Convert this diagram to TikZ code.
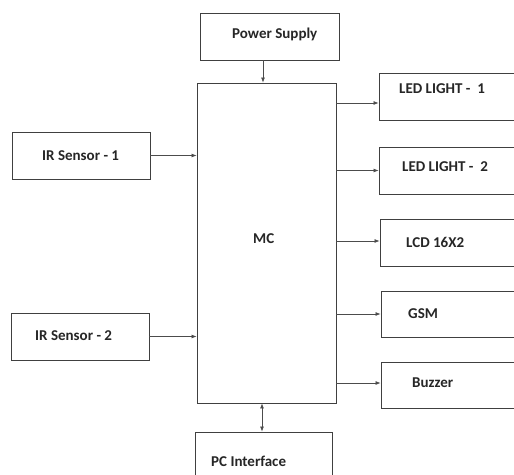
\documentclass[tikz,border=0pt]{standalone}
\usepackage{fontspec}
\setmainfont{Carlito}
\usetikzlibrary{arrows.meta}
\begin{document}
\begin{tikzpicture}[x=1pt,y=-1pt,
  box/.style={draw=black!75,line width=0.9pt,minimum width=#1,inner sep=0pt,rectangle},
  lbl/.style={anchor=west,inner sep=0pt,font=\fontsize{15}{17}\selectfont\bfseries,text=black!85},
  arr/.style={draw=black!70,line width=0.7pt,-{Latex[length=5pt,width=4pt]}},
  darr/.style={draw=black!70,line width=0.7pt,{Latex[length=5pt,width=4pt]}-{Latex[length=5pt,width=4pt]}}]
\clip (0,0) rectangle (514,474);
\fill[white] (0,0) rectangle (514,474);
% boxes
\node[box=139pt,minimum height=47pt] (ps) at (269.5,36.5) {};
\node[box=139pt,minimum height=320pt] (mc) at (266.5,243) {};
\node[box=138pt,minimum height=47pt] (ir1) at (81,155.5) {};
\node[box=138pt,minimum height=47pt] (ir2) at (80,336.5) {};
\node[box=141pt,minimum height=47pt] (led1) at (449.5,96.5) {};
\node[box=141pt,minimum height=47pt] (led2) at (449.5,170.5) {};
\node[box=140pt,minimum height=47pt] (lcd) at (450,242.5) {};
\node[box=139pt,minimum height=46pt] (gsm) at (450.5,314) {};
\node[box=139pt,minimum height=46pt] (buz) at (450.5,385) {};
\node[box=137pt,minimum height=58pt] (pc) at (263.5,461) {};
% labels
\node[lbl] (tps) at (232,34) {Power Supply};
\node[lbl] (tir1) at (42,156) {IR Sensor - 1};
\node[lbl] (tir2) at (35,336) {IR Sensor - 2};
\node[lbl] (tmc) at (253,239) {MC};
\node[lbl] (tl1) at (399,89) {LED LIGHT -\ \ 1};
\node[lbl] (tl2) at (402,167) {LED LIGHT -\ \ 2};
\node[lbl] (tlcd) at (406,242) {LCD 16X2};
\node[lbl] (tgsm) at (408,314) {GSM};
\node[lbl] (tbuz) at (412,383) {Buzzer};
\node[lbl] (tpc) at (211,461) {PC Interface};
% connectors
\draw[arr] ([xshift=-6.5pt]ps.south) -- ([xshift=-6.5pt]ps.south |- mc.north);
\draw[arr] (ir1.east) -- (ir1.east -| mc.west);
\draw[arr] (ir2.east) -- (ir2.east -| mc.west);
\draw[arr] ([yshift=-6.5pt]led1.west -| mc.east) -- ([yshift=-6.5pt]led1.west);
\draw[arr] (led2.west -| mc.east) -- (led2.west);
\draw[arr] ([yshift=1.5pt]lcd.west -| mc.east) -- ([yshift=1.5pt]lcd.west);
\draw[arr] (gsm.west -| mc.east) -- (gsm.west);
\draw[arr] ([yshift=2pt]buz.west -| mc.east) -- ([yshift=2pt]buz.west);
\draw[darr] ([xshift=-4.5pt]mc.south) -- ([xshift=-4.5pt]mc.south |- pc.north);
\end{tikzpicture}
\end{document}
